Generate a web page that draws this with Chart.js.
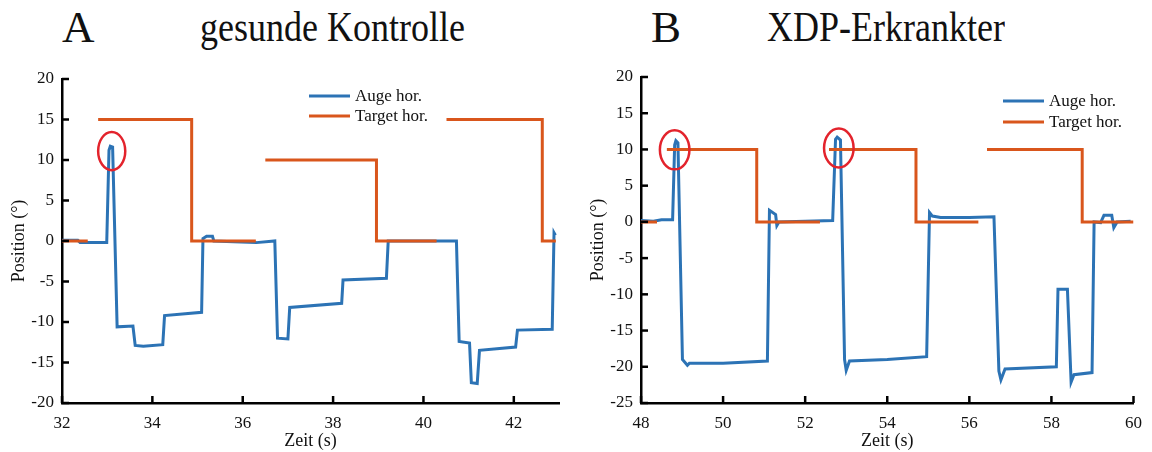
<!DOCTYPE html>
<html>
<head>
<meta charset="utf-8">
<script src="https://cdn.jsdelivr.net/npm/chart.js@4.4.1/dist/chart.umd.min.js"></script>
<style>
  body { margin: 0; background: #fff; }
  #wrap { position: relative; width: 1152px; height: 452px; font-family: "Liberation Serif", "Times New Roman", serif; color: #111; }
  .panel { position: absolute; top: 0; width: 576px; height: 452px; }
  .big { position: absolute; top: 5px; font-size: 45px; line-height: 45px; }
  .ttl { position: absolute; top: 12px; font-size: 36px; line-height: 37px; transform: scaleY(1.15); transform-origin: left bottom; white-space: nowrap; }
</style>
</head>
<body>
<div id="wrap">
  <div class="big" style="left:62px">A</div>
  <div class="ttl" style="left:200px">gesunde Kontrolle</div>
  <div class="big" style="left:651px">B</div>
  <div class="ttl" style="left:767px">XDP-Erkrankter</div>
  <canvas id="chartA" class="panel" style="left:0" width="576" height="452"></canvas>
  <canvas id="chartB" class="panel" style="left:576px" width="576" height="452"></canvas>
</div>
<script>
// ---- Panel A: gesunde Kontrolle ----
const eyeTimeA = [32.00, 32.35, 32.40, 32.99, 33.04, 33.07, 33.12, 33.22, 33.57, 33.62, 33.80, 34.23, 34.27, 35.09,
  35.12, 35.20, 35.33, 35.36, 35.80, 36.30, 36.71, 36.77, 37.00, 37.04, 38.19, 38.22, 39.18, 39.22, 40.00,
  40.73, 40.79, 41.02, 41.06, 41.19, 41.24, 42.04, 42.08, 42.85, 42.89, 42.92];
const eyePosA = [0.1, 0.1, -0.2, -0.2, 11.2, 11.7, 11.6, -10.6, -10.5, -12.9, -13.0, -12.8, -9.2, -8.8,
  0.3, 0.6, 0.6, 0.0, -0.1, -0.2, 0.0, -12.0, -12.1, -8.2, -7.7, -4.8, -4.6, 0.0, 0.0,
  0.0, -12.4, -12.6, -17.5, -17.6, -13.5, -13.1, -11.0, -10.9, 1.0, 0.7];
const targetTimeA = [32.00, 32.57, 32.68, 32.80, 34.87, 34.87, 36.29, 36.40, 36.50, 38.96, 38.96, 40.29, 40.40, 40.51, 42.63, 42.63, 42.93];
const targetPosA = [0, 0, null, 15, 15, 0, 0, null, 10, 10, 0, 0, null, 15, 15, 0, 0];
const xTicksA = [32, 34, 36, 38, 40, 42];
const yTicksA = [-20, -15, -10, -5, 0, 5, 10, 15, 20];
const markersA = [{x: 33.1, y: 11.1, rx: 0.3, ry: 2.35}];

// ---- Panel B: XDP-Erkrankter ----
const eyeTimeB = [48.00, 48.30, 48.50, 48.77, 48.82, 48.85, 48.90, 49.01, 49.13, 49.18, 50.00, 51.08,
  51.13, 51.28, 51.31, 51.36, 52.00, 52.67, 52.74, 52.78, 52.86, 52.96, 53.00, 53.08, 54.00, 54.96,
  55.03, 55.10, 55.30, 56.00, 56.60, 56.72, 56.77, 56.87, 58.12, 58.16, 58.39, 58.48, 58.55, 58.99,
  59.04, 59.20, 59.28, 59.47, 59.52, 59.60, 59.93];
const eyePosB = [0.2, 0.1, 0.3, 0.3, 10.6, 11.2, 10.9, -19.0, -19.8, -19.5, -19.5, -19.2,
  1.6, 1.0, -0.5, 0.0, 0.1, 0.2, 11.4, 11.7, 11.3, -19.0, -20.5, -19.2, -19.0, -18.6,
  1.3, 0.8, 0.6, 0.6, 0.7, -20.6, -21.8, -20.3, -20.0, -9.3, -9.3, -22.1, -21.1, -20.8,
  0.0, -0.1, 0.9, 0.9, -0.8, 0.0, 0.1];
const targetTimeB = [48.00, 48.39, 48.50, 48.63, 50.82, 50.82, 52.36, 52.47, 52.58, 54.70, 54.70, 56.22, 56.32, 56.43, 58.75, 58.75, 60.00];
const targetPosB = [0, 0, null, 10, 10, 0, 0, null, 10, 10, 0, 0, null, 10, 10, 0, 0];
const xTicksB = [48, 50, 52, 54, 56, 58, 60];
const yTicksB = [-25, -20, -15, -10, -5, 0, 5, 10, 15, 20];
const markersB = [{x: 48.82, y: 9.95, rx: 0.36, ry: 2.7}, {x: 52.82, y: 10.2, rx: 0.36, ry: 2.7}];

const eyeColor = '#2c73b5';
const targetColor = '#d9561c';
const circleColor = '#e3232c';
const serif = '"Liberation Serif", "Times New Roman", serif';

Chart.defaults.font.family = serif;
Chart.defaults.font.size = 17;
Chart.defaults.color = '#111';

function toPoints(xs, ys) {
  return xs.map((x, i) => ({x: x, y: ys[i]}));
}

// MATLAB-style ticks pointing into the plot
const innerTicks = {
  id: 'innerTicks',
  afterDraw(chart) {
    const {ctx, chartArea: a} = chart;
    const {x, y} = chart.scales;
    ctx.save();
    ctx.strokeStyle = '#000';
    ctx.lineWidth = 2.5;
    x.ticks.forEach(t => {
      const p = x.getPixelForValue(t.value);
      ctx.beginPath(); ctx.moveTo(p, a.bottom); ctx.lineTo(p, a.bottom - 7); ctx.stroke();
    });
    y.ticks.forEach(t => {
      const p = y.getPixelForValue(t.value);
      ctx.beginPath(); ctx.moveTo(a.left, p); ctx.lineTo(a.left + 7, p); ctx.stroke();
    });
    ctx.restore();
  }
};

// red ellipses around the overshoot peaks
const circles = {
  id: 'circles',
  afterDatasetsDraw(chart, args, opts) {
    const {ctx} = chart;
    const {x, y} = chart.scales;
    ctx.save();
    ctx.strokeStyle = circleColor;
    ctx.lineWidth = 2.5;
    (opts.items || []).forEach(m => {
      const cx = x.getPixelForValue(m.x), cy = y.getPixelForValue(m.y);
      const rx = Math.abs(x.getPixelForValue(m.x + m.rx) - cx);
      const ry = Math.abs(y.getPixelForValue(m.y + m.ry) - cy);
      ctx.beginPath();
      ctx.ellipse(cx, cy, rx, ry, 0, 0, Math.PI * 2);
      ctx.stroke();
    });
    ctx.restore();
  }
};

// small legend inside the plot area
const boxLegend = {
  id: 'boxLegend',
  afterDraw(chart, args, opts) {
    const {ctx, chartArea: a} = chart;
    const x0 = a.left + opts.dx, y0 = a.top + opts.dy;
    ctx.save();
    ctx.font = '17px ' + serif;
    ctx.textBaseline = 'middle';
    ctx.fillStyle = '#111';
    chart.data.datasets.slice().sort((p, q) => p.legendIndex - q.legendIndex).forEach((ds, i) => {
      const yy = y0 + i * opts.rowGap;
      ctx.strokeStyle = ds.borderColor;
      ctx.lineWidth = 3;
      ctx.beginPath(); ctx.moveTo(x0, yy); ctx.lineTo(x0 + 41, yy); ctx.stroke();
      ctx.fillText(ds.label, x0 + 46, yy + 1);
    });
    ctx.restore();
  }
};

function makeChart(id, p) {
  return new Chart(document.getElementById(id), {
    type: 'line',
    data: {
      datasets: [
        {label: 'Auge hor.', legendIndex: 0, order: 1, data: toPoints(p.eyeT, p.eyeY), borderColor: eyeColor, borderWidth: 3},
        {label: 'Target hor.', legendIndex: 1, order: 0, data: toPoints(p.tgtT, p.tgtY), borderColor: targetColor, borderWidth: 3}
      ]
    },
    options: {
      responsive: false,
      animation: false,
      spanGaps: false,
      elements: {point: {radius: 0}, line: {tension: 0, borderCapStyle: 'butt', borderJoinStyle: 'miter'}},
      layout: {padding: {left: 0, right: p.padRight, top: p.padTop, bottom: 0}},
      plugins: {
        legend: {display: false},
        tooltip: {enabled: false},
        circles: {items: p.markers},
        boxLegend: {dx: p.legX, dy: p.legY, rowGap: p.legGap}
      },
      scales: {
        x: {
          type: 'linear', min: p.xMin, max: p.xMax,
          afterFit: s => { s.height = 49; },
          afterBuildTicks: s => { s.ticks = p.xTicks.map(v => ({value: v})); },
          grid: {display: false, drawTicks: false},
          border: {display: true, color: '#000', width: 2.5},
          ticks: {padding: 10, maxRotation: 0, autoSkip: false, color: '#111', font: {family: serif, size: 17}},
          title: {display: true, text: 'Zeit (s)', font: {family: serif, size: 18}, padding: {top: 0, bottom: 0}, color: '#111'}
        },
        y: {
          type: 'linear', min: p.yMin, max: p.yMax,
          afterFit: s => { s.width = p.yWidth; },
          afterBuildTicks: s => { s.ticks = p.yTicks.map(v => ({value: v})); },
          grid: {display: false, drawTicks: false},
          border: {display: true, color: '#000', width: 2.5},
          ticks: {padding: 8, autoSkip: false, color: '#111', font: {family: serif, size: 17}},
          title: {display: true, text: 'Position (°)', font: {family: serif, size: 18}, padding: {top: p.yTitlePad, bottom: 0}, color: '#111'}
        }
      }
    },
    plugins: [innerTicks, circles, boxLegend]
  });
}

makeChart('chartA', {
  eyeT: eyeTimeA, eyeY: eyePosA, tgtT: targetTimeA, tgtY: targetPosA,
  xMin: 32, xMax: 43, yMin: -20, yMax: 20, xTicks: xTicksA, yTicks: yTicksA,
  markers: markersA, padRight: 17, padTop: 79, yWidth: 62, yTitlePad: 8,
  legX: 247, legY: 17, legGap: 20
});

makeChart('chartB', {
  eyeT: eyeTimeB, eyeY: eyePosB, tgtT: targetTimeB, tgtY: targetPosB,
  xMin: 48, xMax: 60, yMin: -25, yMax: 20, xTicks: xTicksB, yTicks: yTicksB,
  markers: markersB, padRight: 13, padTop: 77, yWidth: 65, yTitlePad: 11,
  legX: 362, legY: 24, legGap: 21
});
</script>
</body>
</html>
